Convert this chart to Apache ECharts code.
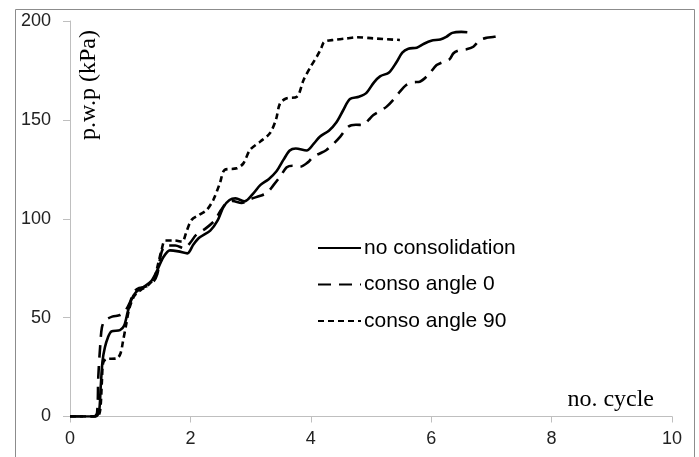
<!DOCTYPE html>
<html>
<head>
<meta charset="utf-8">
<script src="https://cdn.jsdelivr.net/npm/echarts@6/dist/echarts.min.js"></script>
<style>
  html, body { margin: 0; padding: 0; background: #fff; }
  #chart { width: 699px; height: 457px; }
</style>
</head>
<body>
<div id="chart"></div>
<script>
// Pore water pressure build-up against loading cycles
const seriesNames = ['no consolidation', 'conso angle 0', 'conso angle 90'];

// [cycle, p.w.p (kPa)]
const noConsolidation = [
  [0,0],[0.42,0],[0.48,2],[0.51,15],[0.54,28],[0.58,35],[0.63,40],[0.69,43],[0.83,43.7],[0.9,46],
  [0.96,53],[1.02,59],[1.1,63],[1.22,65.5],[1.35,68.5],[1.45,74],[1.55,80.5],[1.66,84],[1.8,83.5],
  [1.95,82.5],[2.05,87],[2.15,90.5],[2.33,94],[2.45,99],[2.55,106],[2.65,109.5],[2.75,110.3],
  [2.9,108.8],[3.05,113],[3.16,117],[3.3,120],[3.43,124],[3.55,130],[3.65,134.5],[3.75,135.5],
  [3.93,134.5],[4.05,138],[4.15,141.5],[4.3,144.5],[4.42,148.5],[4.54,155],[4.65,160.5],[4.8,161.7],
  [4.92,163.5],[5.05,169],[5.15,172],[5.3,174],[5.42,179],[5.52,184],[5.62,186],[5.76,186.5],
  [5.88,188.5],[6.0,190],[6.15,190.7],[6.25,192],[6.35,194],[6.5,194.5],[6.6,194.3]
];

const consoAngle0 = [
  [0,0],[0.4,0],[0.45,2],[0.47,20],[0.5,35],[0.53,45],[0.58,48.5],[0.7,50.5],[0.83,51.3],[0.92,53.5],
  [1.0,58],[1.06,63],[1.15,65],[1.27,65.8],[1.38,68],[1.45,72],[1.52,83],[1.6,86.5],[1.75,86.5],
  [1.9,85],[2.0,88],[2.1,92],[2.25,95],[2.4,99],[2.5,104],[2.6,108],[2.7,109],[2.85,108],[3.0,110],
  [3.15,111.5],[3.27,113],[3.38,117],[3.49,121.3],[3.6,126],[3.7,126.8],[3.82,126.3],[3.95,128.5],
  [4.04,131.4],[4.15,133],[4.26,134.8],[4.38,138],[4.49,141.5],[4.62,146.5],[4.75,147.5],[4.87,147.4],
  [4.96,150],[5.04,152.5],[5.15,154.5],[5.26,156.7],[5.38,160.5],[5.48,164.3],[5.58,167.5],[5.7,169],
  [5.81,169.3],[5.95,172.7],[6.09,177.7],[6.2,179.3],[6.3,180.5],[6.37,183.7],[6.45,185],[6.6,185.8],
  [6.7,187],[6.81,190.4],[6.92,191.5],[7.05,192],[7.2,193]
];

const consoAngle90 = [
  [0,0],[0.45,0],[0.5,3],[0.53,18],[0.55,27],[0.6,29],[0.78,29.4],[0.84,32],[0.88,38],[0.93,46],
  [0.98,54],[1.05,60],[1.11,62.5],[1.2,64.5],[1.3,66.5],[1.4,70],[1.47,78],[1.52,84],[1.58,89],
  [1.74,89],[1.86,88.4],[1.94,94],[2.02,99.4],[2.15,102],[2.27,104.4],[2.38,109.5],[2.49,118],
  [2.57,124.7],[2.77,125.5],[2.88,128],[2.99,134.8],[3.16,139],[3.32,143.2],[3.42,150],[3.49,158.4],
  [3.6,160.9],[3.77,161.7],[3.88,170.2],[4.0,177],[4.1,182],[4.17,186],[4.21,189],[4.25,189.8],
  [4.37,190.4],[4.6,191.2],[4.76,191.8],[5.04,191.2],[5.48,190.4]
];

// Axis ranges and tick steps
const xMin = 0, xMax = 10, xStep = 2;
const yMin = 0, yMax = 200, yStep = 50;
const xTitle = 'no. cycle';
const yTitle = 'p.w.p (kPa)';

const axisGrey = '#bfbfbf';
const tickFont = { fontFamily: 'Liberation Sans', fontSize: 18, color: '#222' };

function lineSeries(name, data, dash) {
  return {
    name: name,
    type: 'line',
    data: data,
    smooth: 0.3,
    symbol: 'none',
    lineStyle: { color: '#000', width: 2.6, type: dash },
    itemStyle: { color: '#000' }
  };
}

const chart = echarts.init(document.getElementById('chart'));
chart.setOption({
  animation: false,
  backgroundColor: '#fff',
  grid: { left: 70, right: 27, top: 21, bottom: 40.5, containLabel: false },
  xAxis: {
    type: 'value', min: xMin, max: xMax, interval: xStep,
    axisLine: { show: true, lineStyle: { color: axisGrey, width: 1 } },
    axisTick: { show: true, length: 6, lineStyle: { color: axisGrey } },
    splitLine: { show: false },
    axisLabel: Object.assign({ margin: 14 }, tickFont)
  },
  yAxis: {
    type: 'value', min: yMin, max: yMax, interval: yStep,
    axisLine: { show: true, lineStyle: { color: axisGrey, width: 1 } },
    axisTick: { show: true, length: 7, lineStyle: { color: axisGrey } },
    splitLine: { show: false },
    axisLabel: Object.assign({ margin: 19 }, tickFont)
  },
  legend: {
    orient: 'vertical',
    left: 317, top: 237.5,
    padding: 0,
    itemWidth: 43, itemHeight: 14,
    itemGap: 15.5,
    data: seriesNames,
    itemStyle: { opacity: 0 },
    textStyle: { fontFamily: 'Liberation Sans', fontSize: 21, color: '#000', padding: [0, 0, 0, -2] }
  },
  series: [
    lineSeries(seriesNames[0], noConsolidation, 'solid'),
    lineSeries(seriesNames[1], consoAngle0, [13, 8]),
    lineSeries(seriesNames[2], consoAngle90, [6, 4])
  ],
  graphic: [
    {
      type: 'rect', left: 13, top: 7, silent: true,
      shape: { width: 679, height: 470 },
      style: { fill: 'none', stroke: '#8c8c8c', lineWidth: 1 }
    },
    {
      type: 'text', x: 89, y: 85, rotation: Math.PI / 2,
      style: { text: yTitle, font: '24px "Liberation Serif"', fill: '#000', align: 'center', verticalAlign: 'middle' }
    },
    {
      type: 'text', x: 654, y: 400,
      style: { text: xTitle, font: '24px "Liberation Serif"', fill: '#000', align: 'right', verticalAlign: 'middle' }
    }
  ]
});
</script>
</body>
</html>
